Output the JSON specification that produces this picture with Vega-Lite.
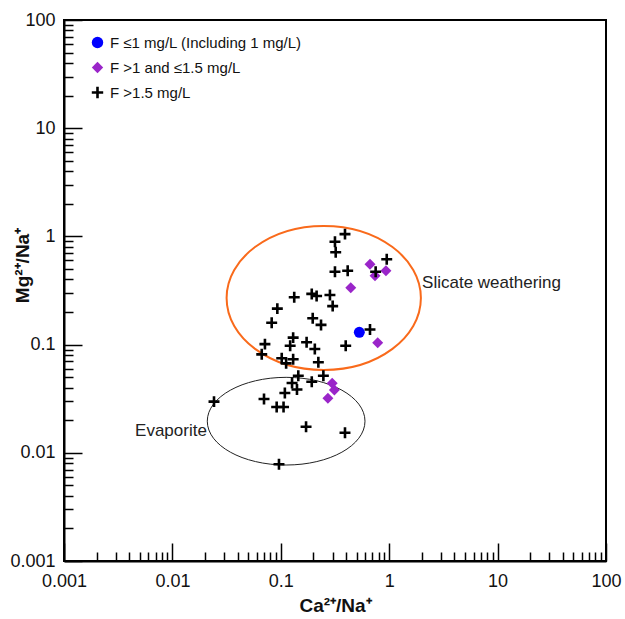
{
  "$schema": "https://vega.github.io/schema/vega-lite/v6.json",
  "width": 542,
  "height": 541,
  "autosize": {"type": "none"},
  "padding": {"left": 64, "top": 20, "right": 19, "bottom": 58},
  "background": "white",
  "config": {
    "view": {"stroke": "#000000", "strokeWidth": 2},
    "font": "Liberation Sans",
    "axis": {"grid": false}
  },
  "encoding": {
    "x": {
      "field": "x", "type": "quantitative",
      "scale": {"type": "log", "domain": [0.001, 100], "nice": false},
      "axis": {
        "title": "Ca²⁺/Na⁺",
        "titleFont": "Liberation Sans", "titleFontSize": 19, "titleFontWeight": "bold", "titleColor": "#111111",
        "titleY": 44, "titleBaseline": "middle",
        "values": [0.001,0.002,0.003,0.004,0.005,0.006,0.007,0.008,0.009,0.01,0.02,0.03,0.04,0.05,0.06,0.07,0.08,0.09,0.1,0.2,0.3,0.4,0.5,0.6,0.7,0.8,0.9,1,2,3,4,5,6,7,8,9,10,20,30,40,50,60,70,80,90,100],
        "labelExpr": "abs(log(datum.value)/LN10 - round(log(datum.value)/LN10)) < 0.01 ? format(datum.value, '~g') : ''",
        "labelFont": "Liberation Sans", "labelFontSize": 18, "labelColor": "#111111",
        "labelOverlap": false, "labelFlush": false, "labelPadding": 29, "labelBaseline": "top",
        "tickSize": {"condition": {"test": "abs(log(datum.value)/LN10 - round(log(datum.value)/LN10)) < 0.01", "value": -18}, "value": -9},
        "tickColor": "#000000", "tickWidth": 1.5,
        "domainColor": "#000000", "domainWidth": 2
      }
    },
    "y": {
      "field": "y", "type": "quantitative",
      "scale": {"type": "log", "domain": [0.001, 100], "nice": false},
      "axis": {
        "title": "Mg²⁺/Na⁺",
        "titleFont": "Liberation Sans", "titleFontSize": 19, "titleFontWeight": "bold", "titleColor": "#111111",
        "titleX": -42, "titleY": 245, "titleAngle": -90, "titleBaseline": "middle", "titleAlign": "center",
        "values": [0.001,0.002,0.003,0.004,0.005,0.006,0.007,0.008,0.009,0.01,0.02,0.03,0.04,0.05,0.06,0.07,0.08,0.09,0.1,0.2,0.3,0.4,0.5,0.6,0.7,0.8,0.9,1,2,3,4,5,6,7,8,9,10,20,30,40,50,60,70,80,90,100],
        "labelExpr": "abs(log(datum.value)/LN10 - round(log(datum.value)/LN10)) < 0.01 ? format(datum.value, '~g') : ''",
        "labelFont": "Liberation Sans", "labelFontSize": 18, "labelColor": "#111111",
        "labelOverlap": false, "labelFlush": false, "labelPadding": 27,
        "tickSize": {"condition": {"test": "abs(log(datum.value)/LN10 - round(log(datum.value)/LN10)) < 0.01", "value": -18}, "value": -9},
        "tickColor": "#000000", "tickWidth": 1.5,
        "domainColor": "#000000", "domainWidth": 2
      }
    }
  },
  "layer": [
    {
      "data": {"values": [{"x": 0.249, "y": 0.27, "name": "Slicate weathering"}]},
      "mark": {"type": "point", "shape": "M-1,0A1,0.741,0,1,0,1,0A1,0.741,0,1,0,-1,0Z", "size": 37750, "filled": false, "stroke": "#F96A1B", "strokeWidth": 2, "opacity": 1}
    },
    {
      "data": {"values": [{"x": 0.112, "y": 0.0196, "name": "Evaporite"}]},
      "mark": {"type": "point", "shape": "M-1,0A1,0.556,0,1,0,1,0A1,0.556,0,1,0,-1,0Z", "size": 24870, "filled": false, "stroke": "#222222", "strokeWidth": 1, "opacity": 1}
    },
    {
      "data": {"values": [
        {"x": 2.01, "y": 0.371, "label": "Slicate weathering"}
      ]},
      "mark": {"type": "text", "align": "left", "baseline": "middle", "fontSize": 17, "font": "Liberation Sans", "color": "#222222"},
      "encoding": {"text": {"field": "label"}}
    },
    {
      "data": {"values": [
        {"x": 0.0208, "y": 0.016, "label": "Evaporite"}
      ]},
      "mark": {"type": "text", "align": "right", "baseline": "middle", "fontSize": 17, "font": "Liberation Sans", "color": "#222222"},
      "encoding": {"text": {"field": "label"}}
    },
    {
      "data": {"values": [
        {"x": 0.391, "y": 1.05, "group": "F >1.5 mg/L"},
        {"x": 0.316, "y": 0.893, "group": "F >1.5 mg/L"},
        {"x": 0.321, "y": 0.713, "group": "F >1.5 mg/L"},
        {"x": 0.949, "y": 0.614, "group": "F >1.5 mg/L"},
        {"x": 0.316, "y": 0.472, "group": "F >1.5 mg/L"},
        {"x": 0.414, "y": 0.482, "group": "F >1.5 mg/L"},
        {"x": 0.75, "y": 0.472, "group": "F >1.5 mg/L"},
        {"x": 0.133, "y": 0.274, "group": "F >1.5 mg/L"},
        {"x": 0.193, "y": 0.294, "group": "F >1.5 mg/L"},
        {"x": 0.214, "y": 0.281, "group": "F >1.5 mg/L"},
        {"x": 0.284, "y": 0.287, "group": "F >1.5 mg/L"},
        {"x": 0.301, "y": 0.227, "group": "F >1.5 mg/L"},
        {"x": 0.0929, "y": 0.215, "group": "F >1.5 mg/L"},
        {"x": 0.0824, "y": 0.159, "group": "F >1.5 mg/L"},
        {"x": 0.197, "y": 0.175, "group": "F >1.5 mg/L"},
        {"x": 0.235, "y": 0.152, "group": "F >1.5 mg/L"},
        {"x": 0.665, "y": 0.138, "group": "F >1.5 mg/L"},
        {"x": 0.397, "y": 0.0977, "group": "F >1.5 mg/L"},
        {"x": 0.13, "y": 0.116, "group": "F >1.5 mg/L"},
        {"x": 0.122, "y": 0.0977, "group": "F >1.5 mg/L"},
        {"x": 0.0714, "y": 0.101, "group": "F >1.5 mg/L"},
        {"x": 0.173, "y": 0.105, "group": "F >1.5 mg/L"},
        {"x": 0.206, "y": 0.091, "group": "F >1.5 mg/L"},
        {"x": 0.0667, "y": 0.0813, "group": "F >1.5 mg/L"},
        {"x": 0.102, "y": 0.0748, "group": "F >1.5 mg/L"},
        {"x": 0.13, "y": 0.0731, "group": "F >1.5 mg/L"},
        {"x": 0.112, "y": 0.0671, "group": "F >1.5 mg/L"},
        {"x": 0.222, "y": 0.0686, "group": "F >1.5 mg/L"},
        {"x": 0.145, "y": 0.0516, "group": "F >1.5 mg/L"},
        {"x": 0.247, "y": 0.0516, "group": "F >1.5 mg/L"},
        {"x": 0.193, "y": 0.0454, "group": "F >1.5 mg/L"},
        {"x": 0.127, "y": 0.0442, "group": "F >1.5 mg/L"},
        {"x": 0.141, "y": 0.0385, "group": "F >1.5 mg/L"},
        {"x": 0.109, "y": 0.0357, "group": "F >1.5 mg/L"},
        {"x": 0.07, "y": 0.0314, "group": "F >1.5 mg/L"},
        {"x": 0.0242, "y": 0.0297, "group": "F >1.5 mg/L"},
        {"x": 0.0916, "y": 0.0265, "group": "F >1.5 mg/L"},
        {"x": 0.106, "y": 0.0265, "group": "F >1.5 mg/L"},
        {"x": 0.171, "y": 0.0174, "group": "F >1.5 mg/L"},
        {"x": 0.391, "y": 0.0153, "group": "F >1.5 mg/L"},
        {"x": 0.0962, "y": 0.00783, "group": "F >1.5 mg/L"},
        {"x": 0.665, "y": 0.552, "group": "F >1 and ≤1.5 mg/L"},
        {"x": 0.933, "y": 0.482, "group": "F >1 and ≤1.5 mg/L"},
        {"x": 0.74, "y": 0.433, "group": "F >1 and ≤1.5 mg/L"},
        {"x": 0.442, "y": 0.336, "group": "F >1 and ≤1.5 mg/L"},
        {"x": 0.783, "y": 0.104, "group": "F >1 and ≤1.5 mg/L"},
        {"x": 0.298, "y": 0.0439, "group": "F >1 and ≤1.5 mg/L"},
        {"x": 0.312, "y": 0.038, "group": "F >1 and ≤1.5 mg/L"},
        {"x": 0.272, "y": 0.0319, "group": "F >1 and ≤1.5 mg/L"},
        {"x": 0.53, "y": 0.13, "group": "F ≤1 mg/L (Including 1 mg/L)"}
      ]},
      "mark": {"type": "point", "size": 120, "strokeWidth": 2.6, "opacity": 1},
      "encoding": {
        "shape": {
          "field": "group", "type": "nominal",
          "scale": {"domain": ["F ≤1 mg/L (Including 1 mg/L)", "F >1 and ≤1.5 mg/L", "F >1.5 mg/L"], "range": ["circle", "diamond", "M-1,0L1,0M0,-1L0,1"]},
          "legend": {
            "title": null, "orient": "none", "legendX": 26, "legendY": 15, "padding": 0,
            "labelFont": "Liberation Sans", "labelFontSize": 15, "labelColor": "#111111", "labelLimit": 400,
            "labelOffset": 5, "rowPadding": 2, "symbolSize": 130, "symbolStrokeWidth": 2.6,
            "symbolOpacity": 1
          }
        },
        "fill": {
          "field": "group", "type": "nominal",
          "scale": {"domain": ["F ≤1 mg/L (Including 1 mg/L)", "F >1 and ≤1.5 mg/L", "F >1.5 mg/L"], "range": ["#0000FF", "#9A25C9", "transparent"]},
          "legend": {"title": null, "orient": "none", "legendX": 26, "legendY": 15, "padding": 0, "labelFont": "Liberation Sans", "labelFontSize": 15, "labelColor": "#111111", "labelLimit": 400, "labelOffset": 5, "rowPadding": 2, "symbolSize": 130, "symbolStrokeWidth": 2.6, "symbolOpacity": 1}
        },
        "stroke": {
          "field": "group", "type": "nominal",
          "scale": {"domain": ["F ≤1 mg/L (Including 1 mg/L)", "F >1 and ≤1.5 mg/L", "F >1.5 mg/L"], "range": ["transparent", "transparent", "#000000"]},
          "legend": {"title": null, "orient": "none", "legendX": 26, "legendY": 15, "padding": 0, "labelFont": "Liberation Sans", "labelFontSize": 15, "labelColor": "#111111", "labelLimit": 400, "labelOffset": 5, "rowPadding": 2, "symbolSize": 130, "symbolStrokeWidth": 2.6, "symbolOpacity": 1}
        },
        "order": {"field": "group", "sort": "ascending"}
      }
    }
  ]
}
